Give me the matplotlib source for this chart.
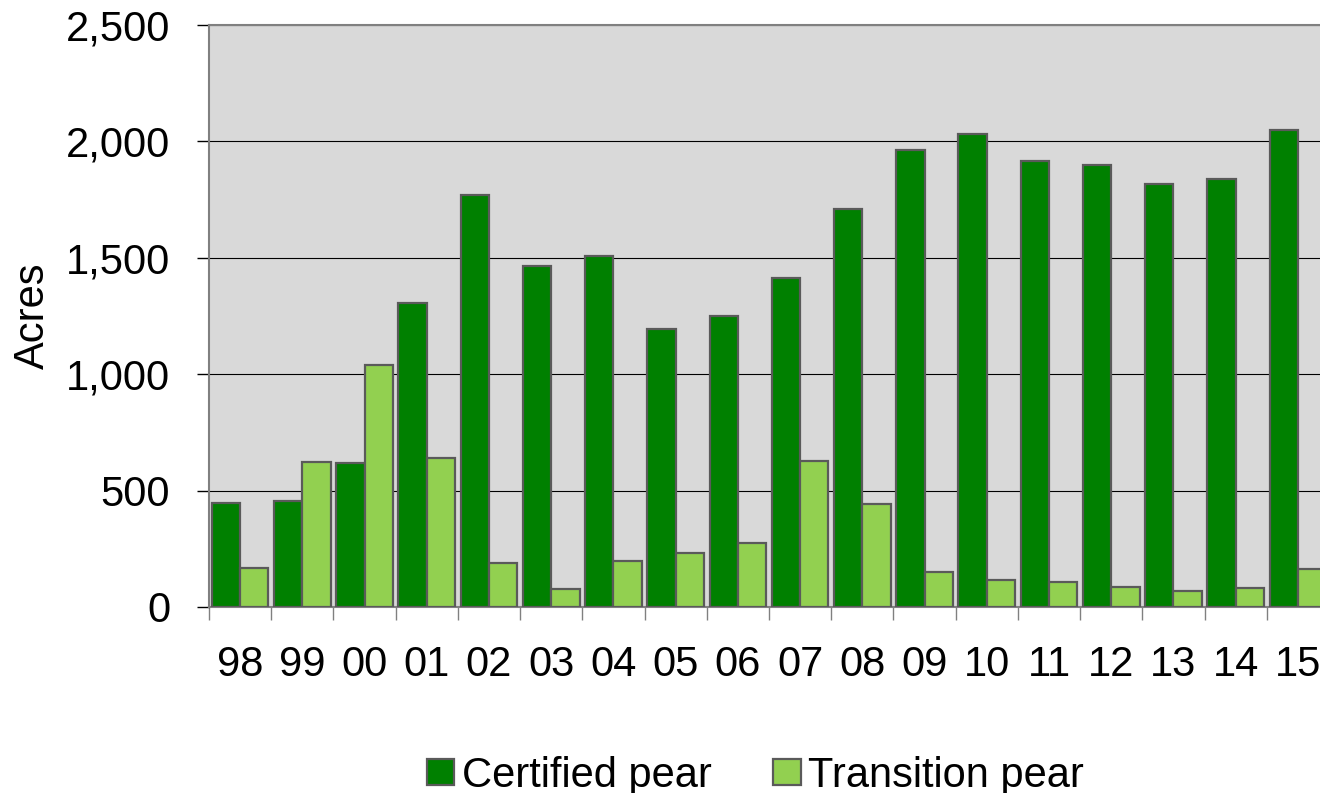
import numpy as np
import matplotlib.pyplot as plt
from matplotlib.ticker import FuncFormatter, FixedLocator

plt.rcParams['font.family'] = ['Liberation Sans', 'DejaVu Sans']

years = ['98', '99', '00', '01', '02', '03', '04', '05', '06',
         '07', '08', '09', '10', '11', '12', '13', '14', '15']
certified = [447, 455, 619, 1306, 1770, 1465, 1508, 1194, 1250,
             1413, 1710, 1963, 2032, 1916, 1899, 1817, 1838, 2049]
transition = [168, 623, 1040, 640, 189, 77, 198, 232, 275,
              627, 442, 150, 116, 107, 86, 69, 82, 163]

x = np.arange(len(years))
w = 0.455

fig = plt.figure(figsize=(13.2, 7.93), dpi=100)
# plot area runs past the right edge, as in the source image
ax = fig.add_axes([209 / 1320, 186 / 793, 1120 / 1320, 582 / 793])
ax.set_facecolor('#d9d9d9')

ax.bar(x - w / 2, certified, w, color='#008000', edgecolor='#5a5a5a',
       linewidth=1.6, label='Certified pear', zorder=3)
ax.bar(x + w / 2, transition, w, color='#92d050', edgecolor='#5a5a5a',
       linewidth=1.6, label='Transition pear', zorder=3)

ax.set_xlim(-0.5, len(years) - 0.5)
ax.set_ylim(0, 2500)
ax.set_yticks(np.arange(0, 2501, 500))
ax.yaxis.set_major_formatter(FuncFormatter(lambda v, p: f'{int(v):,}'))
ax.grid(axis='y', color='black', linewidth=0.8, zorder=1)

ax.set_xticks(x)
ax.set_xticklabels(years)
ax.xaxis.set_minor_locator(FixedLocator(np.arange(-0.5, len(years), 1)))
ax.tick_params(axis='x', which='major', length=0, pad=27, labelsize=30)
ax.tick_params(axis='x', which='minor', length=9, width=1, color='#808080')
ax.tick_params(axis='y', length=9, width=1, pad=19, labelsize=30)

for side in ['left', 'top', 'bottom']:
    ax.spines[side].set_color('#808080')
    ax.spines[side].set_linewidth(1.5)
ax.spines['right'].set_visible(False)

ax.set_ylabel('Acres', fontsize=30, labelpad=9)

fig.legend(loc='center', bbox_to_anchor=(0.572, 0.022), ncol=2, frameon=False,
           fontsize=30, handlelength=0.67, handleheight=0.6,
           handletextpad=0.17, columnspacing=1.47)

fig.savefig('out.png', dpi=100)
